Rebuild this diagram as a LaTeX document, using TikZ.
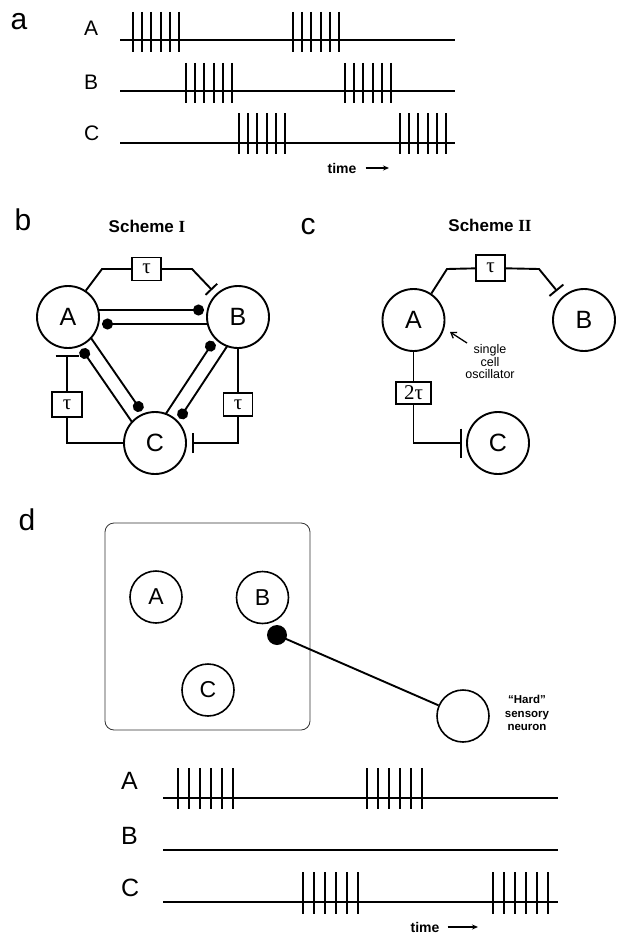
\documentclass[tikz,border=0pt]{standalone}
\usepackage{fontspec}
\setmainfont{Liberation Sans}
\newfontfamily\romanfont{Liberation Serif}
\usetikzlibrary{arrows.meta,calc}
\newcommand\spikeburst[5]{% x0, spacing, ytop, ybot, n-1
  \foreach \k in {0,...,#5}{\draw[spike] ({#1+\k*#2},#3) -- ({#1+\k*#2},#4);}}
\tikzset{
  cell/.style={circle, draw, line width=1.9pt, minimum size=62pt, inner sep=0pt, font=\fontsize{25}{25}\selectfont},
  dcell/.style={circle, draw, line width=1.6pt, minimum size=52pt, inner sep=0pt, font=\fontsize{23}{23}\selectfont},
  delay/.style={draw, line width=1.4pt, minimum width=29pt, minimum height=23pt, inner sep=0pt, font=\romanfont\fontsize{21}{21}\selectfont},
  wire/.style={line width=1.9pt},
  syn/.style={wire, shorten <=30pt, shorten >=34pt, -{Circle[length=11pt]}},
  trace/.style={line width=1.7pt},
  spike/.style={line width=2.1pt},
  panellabel/.style={font=\fontsize{30}{30}\selectfont, inner sep=0pt},
  tracelabel/.style={font=\fontsize{21}{21}\selectfont, inner sep=0pt, anchor=west},
  dtracelabel/.style={font=\fontsize{25}{25}\selectfont, inner sep=0pt, anchor=west},
  schemetitle/.style={font=\bfseries\fontsize{17}{17}\selectfont},
  timelabel/.style={font=\bfseries\fontsize{14}{14}\selectfont, inner sep=0pt},
  timearrow/.style={line width=1.4pt, -{Stealth[length=6pt,width=5pt]}},
  smalltext/.style={font=\fontsize{12.5}{12.5}\selectfont, align=center, inner sep=0pt},
}
\begin{document}
\begin{tikzpicture}[x=1pt,y=-1pt]
\useasboundingbox (0,0) rectangle (616,934);

% ---------------- panel a ----------------
\node[panellabel] (la) at (19,22) {a};
\node[tracelabel] (aA) at (84,28) {A};
\node[tracelabel] (aB) at (84,82) {B};
\node[tracelabel] (aC) at (84,133) {C};
\draw[trace] (120,40) -- (455,40);
\draw[trace] (120,91) -- (455,91);
\draw[trace] (120,143) -- (455,143);
\spikeburst{133}{9.2}{12}{52}{5}
\spikeburst{293}{9.2}{12}{52}{5}
\spikeburst{186}{9.2}{63}{103}{5}
\spikeburst{345}{9.2}{63}{103}{5}
\spikeburst{239}{9.2}{113}{154}{5}
\spikeburst{400}{9.2}{113}{154}{5}
\node[timelabel] (ta) at (342,168) {time};
\coordinate (taend) at (389,168);
\draw[timearrow] ($(ta.east)+(9,0)$) -- (taend);

% ---------------- panel b ----------------
\node[panellabel] (lb) at (23,220) {b};
\node[schemetitle] (sb) at (147,226) {Scheme {\romanfont\bfseries I}};
\node[cell] (bA) at (68,317) {A};
\node[cell] (bB) at (238,317) {B};
\node[cell] (bC) at (155,443) {C};
\foreach \X/\Y in {bA/bB,bB/bC,bC/bA,bA/bC,bC/bB,bB/bA}
  \draw[syn] ($(\X)!7pt!90:(\Y)$) -- ($(\Y)!7pt!-90:(\X)$);
\node[delay] (tbT) at (146.5,269) {τ};
\node[delay, minimum width=30pt, minimum height=25pt] (tbL) at (67,404.5) {τ};
\node[delay] (tbR) at (238,404.5) {τ};
\coordinate (bTend) at (212,290);
\coordinate (bLend) at (67,355);
\coordinate (bRend) at (192,443);
\draw[wire] (bA.56) -- (102,269) -- (tbT);
\draw[wire, -{Bar[width=16pt]}] (tbT) -- (192,269) -- (bTend);
\draw[wire] (tbL) |- (bC);
\draw[wire, -{Bar[width=23pt]}] (tbL) -- (bLend);
\draw[wire] (bB) -- (tbR);
\draw[wire, -{Bar[width=20pt]}] (tbR) |- (bRend);

% ---------------- panel c ----------------
\node[panellabel] (lc) at (308,227) {c};
\node[schemetitle] (sc) at (490,225) {Scheme {\romanfont\bfseries II}};
\node[cell] (cA) at (413.5,320) {A};
\node[cell] (cB) at (584,320) {B};
\node[cell] (cC) at (498,443) {C};
\node[delay, minimum height=26pt] (tcT) at (490.5,268) {τ};
\node[delay, minimum width=35pt, minimum height=22pt] (tc2) at (413.5,393) {2τ};
\coordinate (cTend) at (557,291);
\coordinate (cCend) at (462,443);
\draw[wire] (cA.56) -- (447,269) -- (tcT);
\draw[wire, -{Bar[width=18pt]}] (tcT) -- (539,269) -- (cTend);
\draw[wire] (cA) -- (tc2);
\draw[wire, -{Bar[width=29pt]}] (tc2) |- (cCend);
\node[smalltext] (osc) at (490,362) {single\\cell\\oscillator};
\coordinate (oscarrow) at (450,332);
\draw[line width=1.3pt, -{Straight Barb[length=5pt,width=7pt]}] (467,343) -- (oscarrow);

% ---------------- panel d ----------------
\node[panellabel] (ld) at (27,520) {d};
\draw[line width=0.8pt, rounded corners=9pt, black!80] (105,523) rectangle (310,730);
\node[dcell] (dA) at (156,597) {A};
\node[dcell] (dB) at (262.5,597.5) {B};
\node[dcell] (dC) at (208,690) {C};
\node[dcell] (H) at (463,716) {};
\coordinate (dsyn) at (277,635);
\draw[wire] (H) -- (dsyn);
\fill (dsyn) circle (10pt);
\node[font=\bfseries\fontsize{11.5}{13.5}\selectfont, align=center, inner sep=0pt] (Hl) at (527,713) {“Hard”\\sensory\\neuron};

\node[dtracelabel] (dAl) at (121,781) {A};
\node[dtracelabel] (dBl) at (121,836) {B};
\node[dtracelabel] (dCl) at (121,888) {C};
\draw[trace] (163,798) -- (558,798);
\draw[trace] (163,850) -- (558,850);
\draw[trace] (163,902) -- (558,902);
\spikeburst{178}{11}{768}{809}{5}
\spikeburst{367}{11}{768}{809}{5}
\spikeburst{303}{11}{872}{914}{5}
\spikeburst{493}{11}{872}{914}{5}
\node[timelabel] (td) at (425,927) {time};
\coordinate (tdend) at (478,927);
\draw[timearrow] ($(td.east)+(8,0)$) -- (tdend);
\end{tikzpicture}
\end{document}
